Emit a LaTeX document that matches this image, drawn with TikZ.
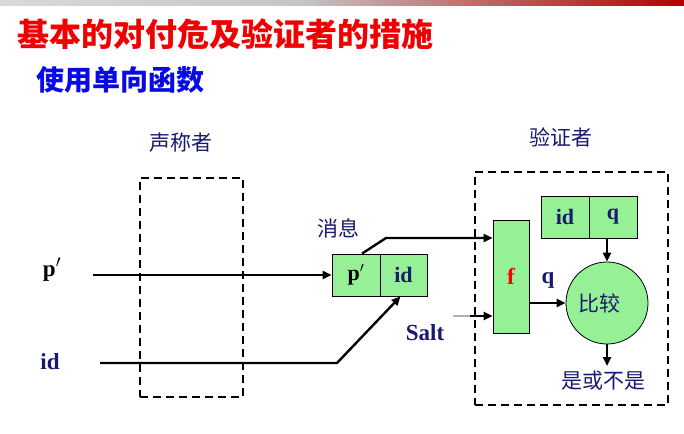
\documentclass[tikz,border=0pt]{standalone}
\usepackage{fontspec}
\setmainfont{Liberation Serif}
\newfontfamily\cjk{Noto Sans CJK SC}
\usetikzlibrary{arrows.meta}
\definecolor{boxgreen}{RGB}{150,240,150}
\definecolor{navy}{RGB}{25,25,110}
\definecolor{titlered}{RGB}{240,0,0}
\definecolor{subblue}{RGB}{10,10,230}
\begin{document}
\begin{tikzpicture}[x=1pt,y=-1pt,
  wire/.style={line width=2.4pt},
  arr/.style={line width=2.4pt,-{Triangle[length=9pt,width=8pt]}},
  cell/.style={draw,line width=0.8pt,fill=boxgreen,minimum height=42pt,inner sep=0pt},
  dbox/.style={draw,line width=2.4pt,dash pattern=on 8pt off 5pt,inner sep=0pt},
  lab/.style={font=\bfseries\fontsize{23}{23}\selectfont},
  cjklab/.style={text=navy,font=\cjk\fontsize{21}{21}\selectfont}]
\useasboundingbox (0,0) rectangle (684,433);
\fill[white] (0,0) rectangle (684,433);
% top banner strip
\shade[left color=gray!30,right color=gray!45] (0,0) rectangle (300,6);
\shade[left color=gray!45,right color=red!70!black] (300,0) rectangle (684,6);
% titles
\node[anchor=west,text=titlered,font=\cjk\bfseries\fontsize{32}{32}\selectfont] (title) at (14,34) {基本的对付危及验证者的措施};
\node[anchor=west,text=subblue,font=\cjk\bfseries\fontsize{28}{28}\selectfont] (sub) at (33,80) {使用单向函数};
% dashed boxes
\node[dbox,minimum width=103pt,minimum height=219pt] (claim) at (191.5,287.5) {};
\node[dbox,minimum width=193pt,minimum height=233pt] (verif) at (571.5,288.5) {};
\node[cjklab] (claimlab) at (181,143) {声称者};
\node[cjklab] (veriflab) at (561,137) {验证者};
% message box
\node[cell,minimum width=48pt] (pcell) at (356,275) {\bfseries\fontsize{22}{22}\selectfont p$'$};
\node[cell,minimum width=47pt,text=navy] (idcell) at (403.5,275) {\bfseries\fontsize{22}{22}\selectfont id};
\node[cjklab] (msglab) at (338,228) {消息};
% inputs
\node[lab] (plab) at (52,270) {p$'$};
\node[lab,text=navy] (idlab) at (50,362) {id};
\coordinate (pstart) at (93,275);
\coordinate (idstart) at (100,363);
\coordinate (idbend) at (337,363);
\draw[arr] (pstart) -- (pcell.west);
\draw[arr] (idstart) -- (idbend) -- ([xshift=-3pt]idcell.south);
% f box
\node[cell,minimum width=36pt,minimum height=113pt,text=red] (fbox) at (511,276.5) {\bfseries\fontsize{23}{23}\selectfont f};
\coordinate (mbend) at (386,238);
\draw[arr] ([xshift=6pt]pcell.north) -- (mbend) -- (fbox.west |- mbend);
% salt
\coordinate (saltstart) at (453,316);
\coordinate (saltmid) at (470,316);
\draw[wire,gray!60] (saltstart) -- (saltmid);
\draw[arr] (saltmid) -- (fbox.west |- saltmid);
\node[lab,text=navy] (saltlab) at (425,333) {Salt};
% stored id|q
\node[cell,minimum width=48pt,text=navy] (id2) at (565,217) {\bfseries\fontsize{22}{22}\selectfont id};
\node[cell,minimum width=48pt,text=navy] (q2) at (613,217) {\bfseries\fontsize{22}{22}\selectfont q};
% compare
\node[circle,draw,line width=0.8pt,fill=boxgreen,minimum size=82pt,inner sep=0pt] (cmp) at (607,303) {};
\node[cjklab] (cmplab) at (599,303) {比较};
\draw[arr] (fbox.east |- cmp.west) -- (cmp.west);
\node[lab,text=navy] (qlab) at (548,280) {q};
\draw[arr] (cmp.north |- q2.south) -- (cmp.north);
\coordinate (outend) at (607,366);
\draw[arr] (cmp.south) -- (outend);
\node[cjklab] (outlab) at (603,381) {是或不是};
\end{tikzpicture}
\end{document}
